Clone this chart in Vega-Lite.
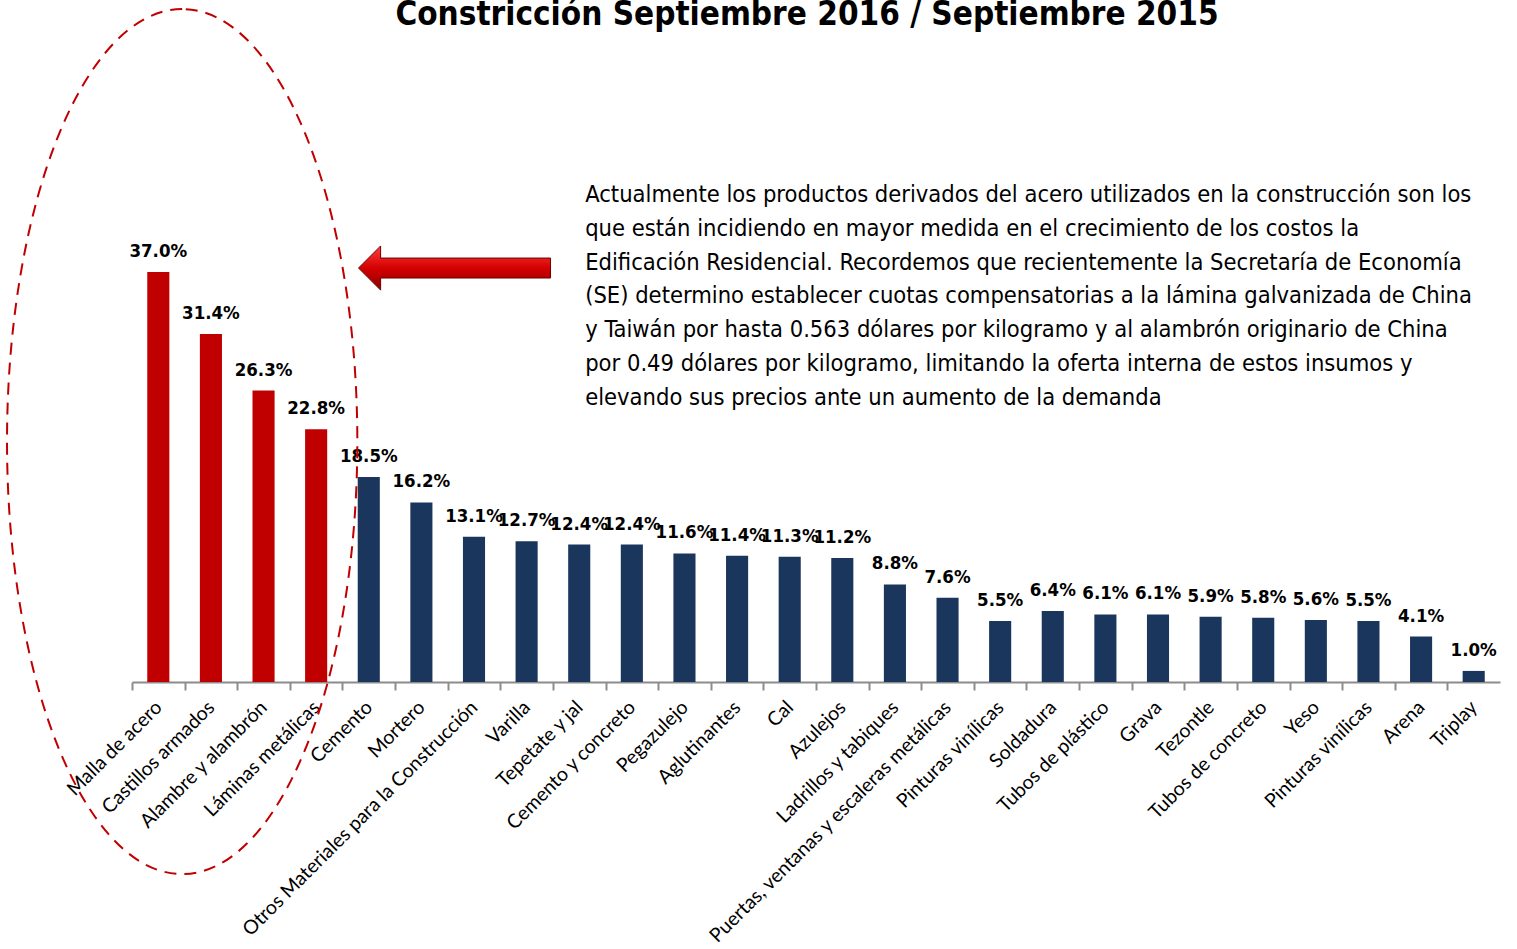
{
  "$schema": "https://vega.github.io/schema/vega-lite/v6.json",
  "width": 1368,
  "height": 642,
  "autosize": {"type": "none"},
  "padding": {"left": 132, "top": 40, "right": 17, "bottom": 267},
  "background": "white",
  "config": {"view": {"stroke": null}},
  "title": {
    "text": "Constricción Septiembre 2016 / Septiembre 2015",
    "font": "'DejaVu Sans Condensed', Roboto, sans-serif",
    "fontSize": 33,
    "fontWeight": "bold",
    "color": "#000000",
    "anchor": "middle",
    "frame": "group",
    "offset": -27,
    "dx": -9
  },
  "layer": [
    {
      "data": {
        "values": [
          {"cat": "Malla de acero", "v": 0.370, "g": "acero"},
          {"cat": "Castillos armados", "v": 0.314, "g": "acero"},
          {"cat": "Alambre y alambrón", "v": 0.263, "g": "acero"},
          {"cat": "Láminas metálicas", "v": 0.228, "g": "acero"},
          {"cat": "Cemento", "v": 0.185, "g": "otros"},
          {"cat": "Mortero", "v": 0.162, "g": "otros"},
          {"cat": "Otros Materiales para la Construcción", "v": 0.131, "g": "otros"},
          {"cat": "Varilla", "v": 0.127, "g": "otros"},
          {"cat": "Tepetate y jal", "v": 0.124, "g": "otros"},
          {"cat": "Cemento y concreto", "v": 0.124, "g": "otros"},
          {"cat": "Pegazulejo", "v": 0.116, "g": "otros"},
          {"cat": "Aglutinantes", "v": 0.114, "g": "otros"},
          {"cat": "Cal", "v": 0.113, "g": "otros"},
          {"cat": "Azulejos", "v": 0.112, "g": "otros"},
          {"cat": "Ladrillos y tabiques", "v": 0.088, "g": "otros"},
          {"cat": "Puertas, ventanas y escaleras metálicas", "v": 0.076, "g": "otros"},
          {"cat": "Pinturas vinílicas", "v": 0.055, "g": "otros"},
          {"cat": "Soldadura", "v": 0.064, "g": "otros"},
          {"cat": "Tubos de plástico", "v": 0.061, "g": "otros"},
          {"cat": "Grava", "v": 0.061, "g": "otros"},
          {"cat": "Tezontle", "v": 0.059, "g": "otros"},
          {"cat": "Tubos de concreto", "v": 0.058, "g": "otros"},
          {"cat": "Yeso", "v": 0.056, "g": "otros"},
          {"cat": "Pinturas vinílicas ", "v": 0.055, "g": "otros"},
          {"cat": "Arena", "v": 0.041, "g": "otros"},
          {"cat": "Triplay", "v": 0.010, "g": "otros"}
        ]
      },
      "layer": [
        {
          "mark": {"type": "bar"},
          "encoding": {
            "x": {
              "field": "cat",
              "type": "nominal",
              "sort": null,
              "scale": {"paddingInner": 0.58, "paddingOuter": 0.29},
              "axis": {
                "title": null,
                "labelAngle": -45,
                "labelAlign": "right",
                "labelBaseline": "middle",
                "labelFont": "Lato",
                "labelFontSize": 19.5,
                "labelColor": "#000000",
                "labelPadding": 14,
                "labelOverlap": false,
                "labelLimit": 0,
                "domainColor": "#8c8c8c",
                "domainWidth": 2,
                "tickColor": "#8c8c8c",
                "tickWidth": 2,
                "tickSize": 8,
                "tickOffset": -26.3,
                "labelOffset": 26.3
              }
            },
            "y": {
              "field": "v",
              "type": "quantitative",
              "scale": {"domain": [0, 0.5794], "nice": false, "zero": true},
              "axis": null
            },
            "color": {
              "field": "g",
              "type": "nominal",
              "scale": {"domain": ["acero", "otros"], "range": ["#C00000", "#1B365D"]},
              "legend": null
            }
          }
        },
        {
          "mark": {
            "type": "text",
            "font": "'DejaVu Sans Condensed', Roboto, sans-serif",
            "fontSize": 18.5,
            "fontWeight": "bold",
            "color": "#000000",
            "baseline": "alphabetic",
            "align": "center",
            "dy": -15
          },
          "encoding": {
            "x": {"field": "cat", "type": "nominal", "sort": null},
            "y": {"field": "v", "type": "quantitative"},
            "text": {"field": "v", "type": "quantitative", "format": ".1%"}
          }
        }
      ]
    },
    {
      "data": {"values": [{"cat": "Malla de acero", "v": 0.217}]},
      "mark": {
        "type": "point",
        "shape": "M0,-1A0.405,1,0,1,0,0,1A0.405,1,0,1,0,0,-1Z",
        "filled": false,
        "stroke": "#C00000",
        "strokeWidth": 2,
        "strokeDash": [12, 8],
        "opacity": 1,
        "size": 748225
      },
      "encoding": {
        "x": {"field": "cat", "type": "nominal", "sort": null, "bandPosition": 1.58},
        "y": {"field": "v", "type": "quantitative"}
      }
    },
    {
      "data": {"values": [{"cat": "Mortero", "v": 0.3736}]},
      "mark": {
        "type": "point",
        "shape": "M-1,0L-0.77,-0.23L-0.77,-0.104L1,-0.104L1,0.104L-0.77,0.104L-0.77,0.23Z",
        "filled": true,
        "fill": {
          "gradient": "linear",
          "x1": 0, "y1": 0, "x2": 0, "y2": 1,
          "stops": [
            {"offset": 0, "color": "#ff4040"},
            {"offset": 0.5, "color": "#d40000"},
            {"offset": 1, "color": "#8a0000"}
          ]
        },
        "stroke": "#6a0000",
        "strokeWidth": 1,
        "opacity": 1,
        "size": 36864
      },
      "encoding": {
        "x": {"field": "cat", "type": "nominal", "sort": null, "bandPosition": 2.0},
        "y": {"field": "v", "type": "quantitative"}
      }
    },
    {
      "data": {"values": [{"cat": "Tepetate y jal", "v": 0.4504}]},
      "mark": {
        "type": "text",
        "font": "'DejaVu Sans Condensed', Roboto, sans-serif",
        "fontSize": 23.5,
        "color": "#000000",
        "align": "left",
        "baseline": "top",
        "lineHeight": 33.8,
        "text": [
          "Actualmente los productos derivados del acero utilizados en la construcción son los",
          "que están incidiendo en mayor medida en el crecimiento de los costos la",
          "Edificación Residencial. Recordemos que recientemente la Secretaría de Economía",
          "(SE) determino establecer cuotas compensatorias a la lámina galvanizada de China",
          "y Taiwán por hasta 0.563 dólares por kilogramo y al alambrón originario de China",
          "por 0.49 dólares por kilogramo, limitando la oferta interna de estos insumos y",
          "elevando sus precios ante un aumento de la demanda"
        ]
      },
      "encoding": {
        "x": {"field": "cat", "type": "nominal", "sort": null, "bandPosition": 0.77},
        "y": {"field": "v", "type": "quantitative"}
      }
    }
  ]
}
